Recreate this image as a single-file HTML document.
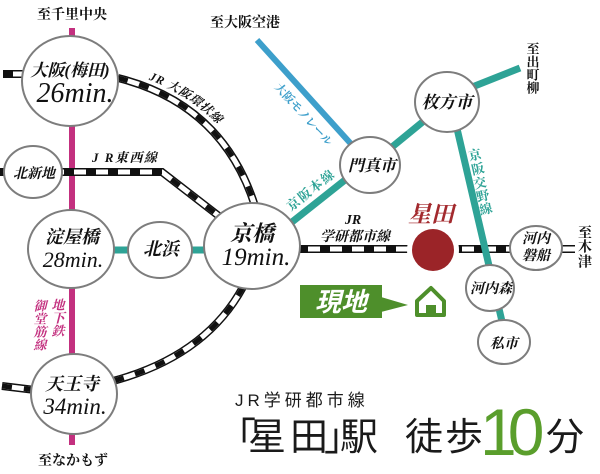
<!DOCTYPE html>
<html><head><meta charset="utf-8">
<style>
html,body{margin:0;padding:0;background:#fff;}
svg{display:block;}
.st{font-family:"Liberation Serif","Noto Serif CJK SC",serif;font-weight:bold;font-style:italic;fill:#111;}
.up{font-family:"Liberation Serif","Noto Serif CJK SC",serif;font-weight:bold;fill:#111;}
.mn{font-family:"Liberation Serif",serif;font-style:italic;fill:#111;}
.gs{font-family:"Liberation Sans","Noto Sans CJK JP",sans-serif;fill:#1a1a1a;}
</style></head><body>
<svg width="600" height="474" viewBox="0 0 600 474" xmlns="http://www.w3.org/2000/svg">
<defs>
  <path id="r1" d="M118,78 Q222.5,104 255,206"/>
  <path id="r2" d="M243,287 Q205.5,356 113,381"/>
  <path id="r3" d="M3,74 L26,74"/>
  <path id="r4" d="M2,386 L35,390"/>
  <path id="r5" d="M-2,172 L162,172 L224,220"/>
  <path id="r6" d="M298,249 L512,249"/>
  <path id="r7" d="M558,249 L575,249"/>
  <path id="lbl" d="M121.7,71.2 Q228.2,97.8 261.6,199.8"/>
</defs>

<!-- subway (magenta) -->
<line x1="72" y1="28" x2="72" y2="445" stroke="#c3307f" stroke-width="6"/>

<!-- Keihan teal lines -->
<g stroke="#2ea396" stroke-width="7" fill="none">
  <line x1="100" y1="250" x2="215" y2="250"/>
  <line x1="280" y1="231.5" x2="362" y2="166.5"/>
  <line x1="370" y1="165" x2="447" y2="102"/>
  <line x1="447" y1="97" x2="520" y2="68"/>
</g>

<!-- monorail -->
<line x1="257" y1="40" x2="352" y2="145" stroke="#3d9fcb" stroke-width="6"/>

<!-- JR rails -->
<g fill="none">
  <g stroke="#111" stroke-width="8">
    <use href="#r1"/><use href="#r2"/><use href="#r3"/><use href="#r4"/><use href="#r5"/><use href="#r6"/><use href="#r7"/>
  </g>
  <g stroke="#fff" stroke-width="5">
    <use href="#r1"/><use href="#r2"/><use href="#r3"/><use href="#r4"/><use href="#r5"/><use href="#r6"/><use href="#r7"/>
  </g>
  <g stroke="#111" stroke-width="5" stroke-dasharray="10 12">
    <use href="#r1"/><use href="#r2"/><use href="#r3"/><use href="#r4"/><use href="#r5"/><use href="#r6"/>
  </g>
</g>

<!-- Katano line over JR -->
<line x1="455" y1="120" x2="504" y2="330" stroke="#2ea396" stroke-width="7"/>

<!-- Hoshida red dot -->
<circle cx="433" cy="250" r="26" fill="#fff"/>
<circle cx="433" cy="250" r="21" fill="#9b2428"/>

<!-- station circles -->
<g fill="#fff" stroke="#7d7d7d" stroke-width="2">
  <ellipse cx="70" cy="81" rx="48" ry="45"/>
  <ellipse cx="33" cy="172" rx="29" ry="26"/>
  <ellipse cx="71" cy="249" rx="43" ry="39"/>
  <ellipse cx="160" cy="250" rx="32" ry="28"/>
  <ellipse cx="252" cy="246" rx="48" ry="43"/>
  <ellipse cx="74" cy="394" rx="43" ry="40"/>
  <ellipse cx="370" cy="165" rx="30" ry="28"/>
  <ellipse cx="447" cy="102" rx="32" ry="30"/>
  <ellipse cx="536" cy="248" rx="26" ry="22"/>
  <ellipse cx="490" cy="288" rx="24" ry="23"/>
  <ellipse cx="504" cy="342" rx="26" ry="22"/>
</g>

<!-- station names -->
<g class="st" text-anchor="middle">
  <text x="70" y="76" font-size="17">大阪(梅田)</text>
  <text x="34" y="178" font-size="14">北新地</text>
  <text x="72" y="243" font-size="18">淀屋橋</text>
  <text x="161" y="255" font-size="18">北浜</text>
  <text x="252" y="241" font-size="22">京橋</text>
  <text x="72" y="390" font-size="18">天王寺</text>
  <text x="372" y="171" font-size="16">門真市</text>
  <text x="447" y="108" font-size="17">枚方市</text>
  <text x="536" y="243" font-size="14">河内</text>
  <text x="536" y="260" font-size="14">磐船</text>
  <text x="491" y="293" font-size="14">河内森</text>
  <text x="504" y="348" font-size="14">私市</text>
</g>
<g class="mn" text-anchor="middle">
  <text x="75" y="102" font-size="28">26min.</text>
  <text x="73" y="267" font-size="22">28min.</text>
  <text x="256" y="265" font-size="25">19min.</text>
  <text x="75" y="414" font-size="23">34min.</text>
</g>

<!-- terminus labels -->
<g class="up" text-anchor="middle" font-size="14">
  <text x="72" y="19">至千里中央</text>
  <text x="245" y="27">至大阪空港</text>
  <text x="73" y="465">至なかもず</text>
</g>
<g class="up" text-anchor="middle" dominant-baseline="central" font-size="13">
  <text x="533" y="49">至</text>
  <text x="533" y="62">出</text>
  <text x="533" y="75">町</text>
  <text x="533" y="88">柳</text>
</g>
<g class="up" text-anchor="middle" dominant-baseline="central" font-size="14">
  <text x="585" y="234">至</text>
  <text x="585" y="248">木</text>
  <text x="585" y="263">津</text>
</g>

<!-- line labels -->
<text class="st" font-size="12" letter-spacing="0.8"><textPath href="#lbl" startOffset="28">JR 大阪環状線</textPath></text>
<text class="st" x="92" y="162" font-size="13" letter-spacing="1.5">J R東西線</text>
<text class="st" x="353" y="224" font-size="14" text-anchor="middle">JR</text>
<text class="st" x="355" y="241" font-size="14" text-anchor="middle">学研都市線</text>

<g font-family="'Liberation Serif','Noto Serif CJK SC',serif" font-weight="bold" font-style="italic" fill="#c3307f" text-anchor="middle" dominant-baseline="central" font-size="13">
  <text x="58" y="305">地</text>
  <text x="58" y="318">下</text>
  <text x="58" y="331">鉄</text>
  <text x="40" y="306">御</text>
  <text x="40" y="319">堂</text>
  <text x="40" y="332">筋</text>
  <text x="40" y="345">線</text>
</g>

<text font-family="'Liberation Serif','Noto Serif CJK SC',serif" font-weight="bold" fill="#3d9fcb" font-size="11.5" text-anchor="middle" dominant-baseline="central" transform="translate(303,115) rotate(47.9)">大阪モノレール</text>
<text font-family="'Liberation Serif','Noto Serif CJK SC',serif" font-weight="bold" fill="#2ea396" font-size="13" letter-spacing="1.5" text-anchor="middle" dominant-baseline="central" transform="translate(311,190) rotate(-38.4)">京阪本線</text>
<g font-family="'Liberation Serif','Noto Serif CJK SC',serif" font-weight="bold" fill="#2ea396" font-size="13" text-anchor="middle" dominant-baseline="central">
  <text transform="translate(475,155) rotate(-13)">京</text>
  <text transform="translate(478,169) rotate(-13)">阪</text>
  <text transform="translate(480,183) rotate(-13)">交</text>
  <text transform="translate(483,196) rotate(-13)">野</text>
  <text transform="translate(486,209) rotate(-13)">線</text>
</g>

<!-- Hoshida label -->
<text x="431" y="222" font-family="'Liberation Serif','Noto Serif CJK SC',serif" font-weight="bold" font-style="italic" font-size="23" fill="#a32a2e" text-anchor="middle">星田</text>

<!-- current location -->
<rect x="300" y="285" width="82" height="33" fill="#4e8f2b"/>
<polygon points="381,297 408,305 381,312" fill="#4e8f2b"/>
<text x="341" y="311" font-family="'Liberation Sans','Noto Sans CJK JP',sans-serif" font-weight="bold" font-style="italic" font-size="26" fill="#fff" text-anchor="middle">現地</text>
<path d="M417,301 L431,288 L444,301 L444,315 L417,315 Z" fill="none" stroke="#4e8f2b" stroke-width="4" stroke-linejoin="round"/>
<rect x="426" y="305" width="10" height="11" fill="#4e8f2b"/>

<!-- bottom caption -->
<text class="gs" x="235" y="406" font-size="17" letter-spacing="4">JR学研都市線</text>
<g class="gs" font-size="38">
  <text x="218" y="450">「</text>
  <text x="248" y="450">星</text>
  <text x="290" y="450">田</text>
  <text x="324" y="450">」</text>
  <text x="340" y="450">駅</text>
  <text x="405" y="450">徒</text>
  <text x="445" y="450">歩</text>
  <text x="546" y="450">分</text>
</g>
<text x="480" y="455" font-family="'Liberation Sans',sans-serif" font-size="66" letter-spacing="-9" fill="#5a9e2c">10</text>
</svg>
</body></html>
